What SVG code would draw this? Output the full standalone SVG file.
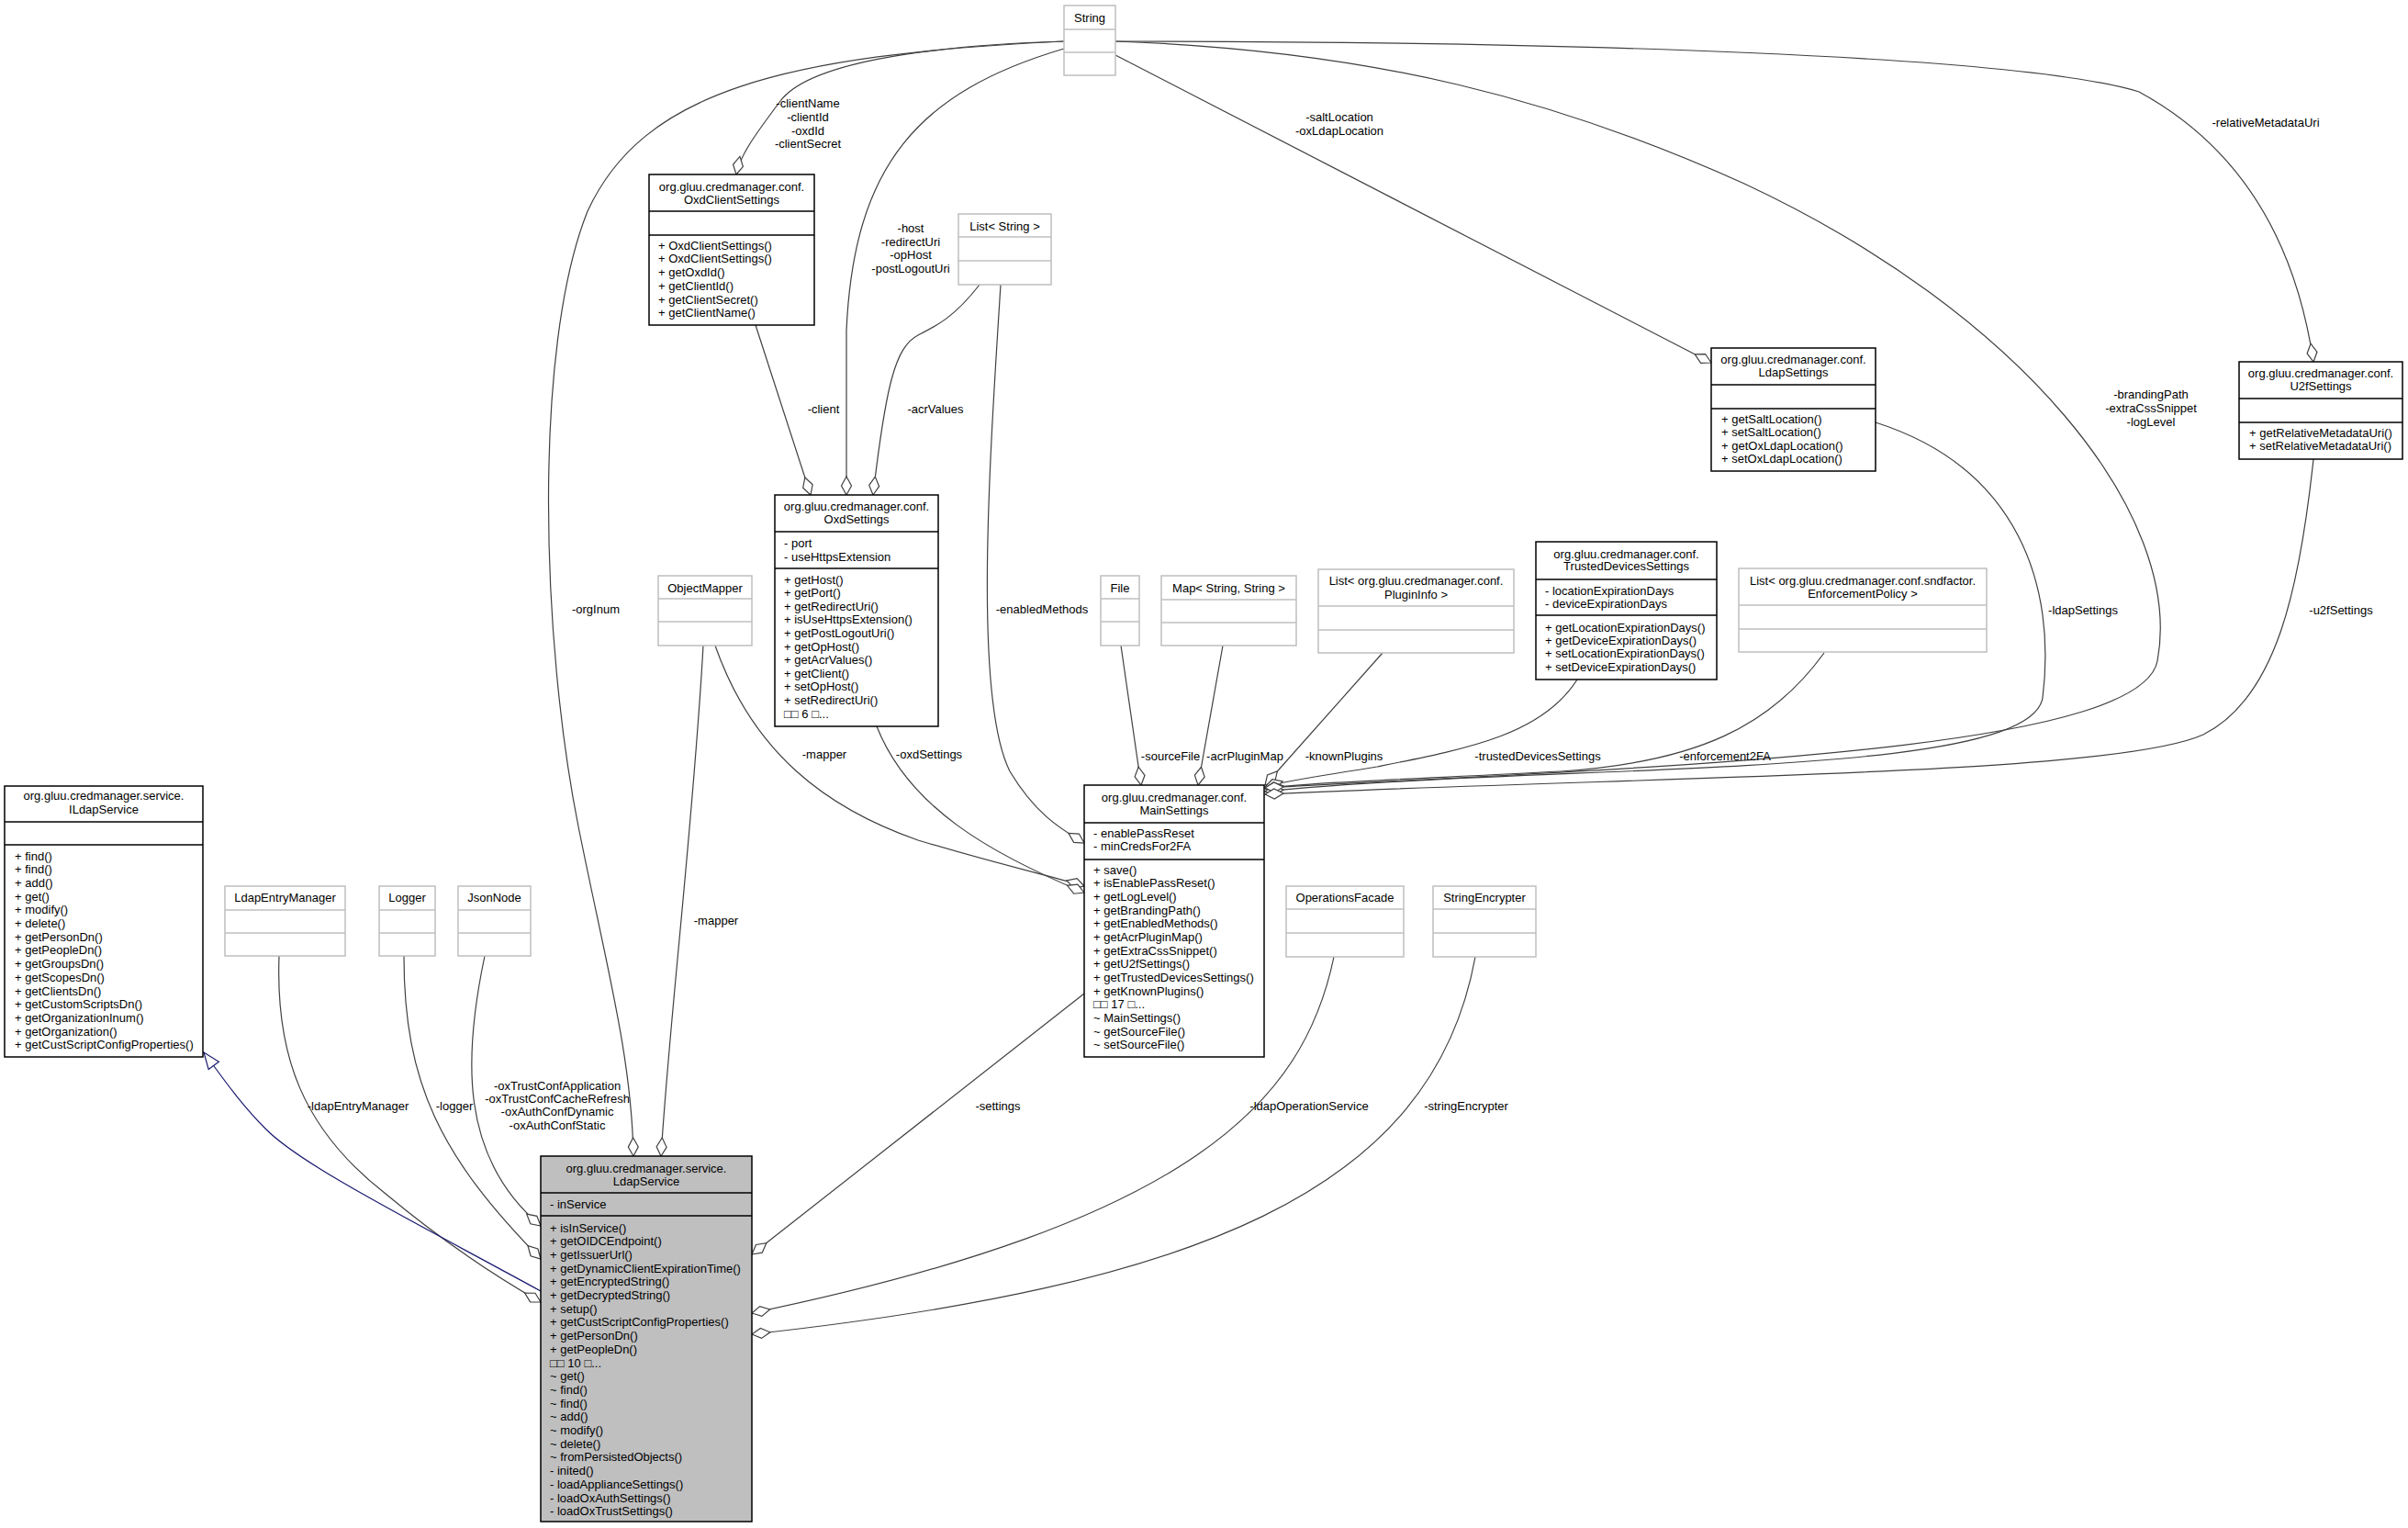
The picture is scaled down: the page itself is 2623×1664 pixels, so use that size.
<svg xmlns="http://www.w3.org/2000/svg" width="2623" height="1664" viewBox="0 0 2623 1664">
<style>
text{font-family:"Liberation Sans",Arial,sans-serif;font-size:13px;fill:#000}
.c{text-anchor:middle}
.ext{fill:#fff;stroke:#bfbfbf;stroke-width:1.5}
.cls{fill:#fff;stroke:#000;stroke-width:1.5}
.cur{fill:#bfbfbf;stroke:#000;stroke-width:1.5}
.sg{stroke:#bfbfbf;stroke-width:1.5}
.sb{stroke:#000;stroke-width:1.5}
.e{fill:none;stroke:#404040;stroke-width:1.2;marker-end:url(#dia)}
.inh{fill:none;stroke:#191970;stroke-width:1.2;marker-end:url(#tri)}
</style>
<defs>
<marker id="dia" markerUnits="userSpaceOnUse" markerWidth="24" markerHeight="14" viewBox="-22 -7 24 14" refX="0" refY="0" orient="auto"><path d="M0,0 L-10,-5.5 L-20,0 L-10,5.5 Z" fill="#fff" stroke="#404040" stroke-width="1.2"/></marker>
<marker id="tri" markerUnits="userSpaceOnUse" markerWidth="22" markerHeight="18" viewBox="-20 -9 22 18" refX="0" refY="0" orient="auto"><path d="M0,0 L-18,-7 L-18,7 Z" fill="#fff" stroke="#191970" stroke-width="1.2"/></marker>
</defs>
<rect width="2623" height="1664" fill="#fff"/>
<g id="connectors">
<path class="e" d="M1159,45 C850,60 700,100 640,230 C580,380 590,700 630,900 C660,1050 688,1150 690,1259"/>
<path class="e" d="M766,703 C755,900 730,1100 720,1259"/>
<path class="e" d="M304,1041 C300,1150 330,1230 420,1300 C480,1350 540,1390 589,1418"/>
<path class="e" d="M440,1041 C440,1180 480,1260 589,1371"/>
<path class="e" d="M528,1041 C505,1150 500,1260 589,1335"/>
<path class="inh" d="M589,1406 C450,1330 330,1270 290,1230 C260,1200 240,1170 222,1146"/>
<path class="e" d="M1181,1082 L819,1366"/>
<path class="e" d="M1453,1042 C1420,1200 1300,1330 819,1430"/>
<path class="e" d="M1607,1042 C1560,1300 1300,1400 819,1453"/>
<path class="e" d="M779,703 C820,820 900,880 1000,915 C1100,945 1150,955 1181,965"/>
<path class="e" d="M955,791 C990,880 1080,930 1181,972"/>
<path class="e" d="M1090,310 C1078,500 1060,760 1100,840 C1130,890 1160,905 1181,918"/>
<path class="e" d="M1221,703 L1243,855"/>
<path class="e" d="M1332,703 L1305,855"/>
<path class="e" d="M1506,711 L1378,855"/>
<path class="e" d="M1718,740 C1680,800 1600,815 1500,835 C1440,845 1400,850 1378,857"/>
<path class="e" d="M1987,711 C1930,790 1850,830 1700,840 C1550,848 1420,852 1378,859"/>
<path class="e" d="M2043,460 C2200,510 2240,640 2225,760 C2210,850 1700,830 1378,862"/>
<path class="e" d="M1215,45 C1500,55 1700,110 1900,200 C2200,340 2380,560 2350,720 C2330,820 1800,835 1378,858"/>
<path class="e" d="M2520,500 C2505,640 2480,760 2400,800 C2300,845 1800,845 1378,865"/>
<path class="e" d="M1215,45 C1700,45 2200,60 2330,100 C2440,160 2500,260 2520,394"/>
<path class="e" d="M1215,60 L1864,395"/>
<path class="e" d="M1159,45 C1000,50 880,70 850,110 C820,150 806,170 802,190"/>
<path class="e" d="M1159,53 C1000,100 930,180 922,360 L922,539"/>
<path class="e" d="M823,354 L883,539"/>
<path class="e" d="M1067,310 C1040,345 1020,355 1000,365 C975,378 965,420 951,539"/>
<text class="c" x="649" y="668">-orgInum</text>
<text class="c" x="780" y="1007">-mapper</text>
<text class="c" x="390" y="1209">-ldapEntryManager</text>
<text class="c" x="495" y="1209">-logger</text>
<text class="c" x="607" y="1187">-oxTrustConfApplication</text>
<text class="c" x="607" y="1201">-oxTrustConfCacheRefresh</text>
<text class="c" x="607" y="1215">-oxAuthConfDynamic</text>
<text class="c" x="607" y="1230">-oxAuthConfStatic</text>
<text class="c" x="1087" y="1209">-settings</text>
<text class="c" x="1426" y="1209">-ldapOperationService</text>
<text class="c" x="1597" y="1209">-stringEncrypter</text>
<text class="c" x="898" y="826">-mapper</text>
<text class="c" x="1012" y="826">-oxdSettings</text>
<text class="c" x="1135" y="668">-enabledMethods</text>
<text class="c" x="1275" y="828">-sourceFile</text>
<text class="c" x="1356" y="828">-acrPluginMap</text>
<text class="c" x="1464" y="828">-knownPlugins</text>
<text class="c" x="1675" y="828">-trustedDevicesSettings</text>
<text class="c" x="1879" y="828">-enforcement2FA</text>
<text class="c" x="2269" y="669">-ldapSettings</text>
<text class="c" x="2343" y="434">-brandingPath</text>
<text class="c" x="2343" y="449">-extraCssSnippet</text>
<text class="c" x="2343" y="464">-logLevel</text>
<text class="c" x="2550" y="669">-u2fSettings</text>
<text class="c" x="2468" y="138">-relativeMetadataUri</text>
<text class="c" x="1459" y="132">-saltLocation</text>
<text class="c" x="1459" y="147">-oxLdapLocation</text>
<text class="c" x="880" y="117">-clientName</text>
<text class="c" x="880" y="132">-clientId</text>
<text class="c" x="880" y="147">-oxdId</text>
<text class="c" x="880" y="161">-clientSecret</text>
<text class="c" x="992" y="253">-host</text>
<text class="c" x="992" y="268">-redirectUri</text>
<text class="c" x="992" y="282">-opHost</text>
<text class="c" x="992" y="297">-postLogoutUri</text>
<text class="c" x="897" y="450">-client</text>
<text class="c" x="1019" y="450">-acrValues</text>
</g>
<g id="String"><rect class="ext" x="1159" y="6" width="56" height="76"/><line class="sg" x1="1159" y1="32" x2="1215" y2="32"/><line class="sg" x1="1159" y1="57" x2="1215" y2="57"/><text class="c" x="1187" y="23.5">String</text></g>
<g id="ListString"><rect class="ext" x="1044" y="233" width="101" height="77"/><line class="sg" x1="1044" y1="258" x2="1145" y2="258"/><line class="sg" x1="1044" y1="284" x2="1145" y2="284"/><text class="c" x="1094.5" y="250.5">List&lt; String &gt;</text></g>
<g id="ObjectMapper"><rect class="ext" x="717" y="627" width="102" height="76"/><line class="sg" x1="717" y1="652" x2="819" y2="652"/><line class="sg" x1="717" y1="677" x2="819" y2="677"/><text class="c" x="768" y="644.5">ObjectMapper</text></g>
<g id="File"><rect class="ext" x="1199" y="627" width="42" height="76"/><line class="sg" x1="1199" y1="652" x2="1241" y2="652"/><line class="sg" x1="1199" y1="677" x2="1241" y2="677"/><text class="c" x="1220" y="644.5">File</text></g>
<g id="MapStringString"><rect class="ext" x="1265" y="627" width="147" height="76"/><line class="sg" x1="1265" y1="653" x2="1412" y2="653"/><line class="sg" x1="1265" y1="678" x2="1412" y2="678"/><text class="c" x="1338.5" y="644.5">Map&lt; String, String &gt;</text></g>
<g id="ListPluginInfo"><rect class="ext" x="1436" y="620" width="213" height="91"/><line class="sg" x1="1436" y1="660" x2="1649" y2="660"/><line class="sg" x1="1436" y1="686" x2="1649" y2="686"/><text class="c" x="1542.5" y="636.5">List&lt; org.gluu.credmanager.conf.</text><text class="c" x="1542.5" y="651.5">PluginInfo &gt;</text></g>
<g id="ListEnforcementPolicy"><rect class="ext" x="1894" y="619" width="270" height="91"/><line class="sg" x1="1894" y1="659" x2="2164" y2="659"/><line class="sg" x1="1894" y1="685" x2="2164" y2="685"/><text class="c" x="2029" y="636.5">List&lt; org.gluu.credmanager.conf.sndfactor.</text><text class="c" x="2029" y="650.5">EnforcementPolicy &gt;</text></g>
<g id="OperationsFacade"><rect class="ext" x="1401" y="965" width="128" height="77"/><line class="sg" x1="1401" y1="990" x2="1529" y2="990"/><line class="sg" x1="1401" y1="1016" x2="1529" y2="1016"/><text class="c" x="1465" y="981.5">OperationsFacade</text></g>
<g id="StringEncrypter"><rect class="ext" x="1561" y="965" width="112" height="77"/><line class="sg" x1="1561" y1="990" x2="1673" y2="990"/><line class="sg" x1="1561" y1="1016" x2="1673" y2="1016"/><text class="c" x="1617" y="981.5">StringEncrypter</text></g>
<g id="LdapEntryManager"><rect class="ext" x="245" y="965" width="131" height="76"/><line class="sg" x1="245" y1="991" x2="376" y2="991"/><line class="sg" x1="245" y1="1016" x2="376" y2="1016"/><text class="c" x="310.5" y="982">LdapEntryManager</text></g>
<g id="Logger"><rect class="ext" x="413" y="965" width="61" height="76"/><line class="sg" x1="413" y1="991" x2="474" y2="991"/><line class="sg" x1="413" y1="1016" x2="474" y2="1016"/><text class="c" x="443.5" y="982">Logger</text></g>
<g id="JsonNode"><rect class="ext" x="499" y="965" width="79" height="76"/><line class="sg" x1="499" y1="991" x2="578" y2="991"/><line class="sg" x1="499" y1="1016" x2="578" y2="1016"/><text class="c" x="538.5" y="982">JsonNode</text></g>
<g id="OxdClientSettings"><rect class="cls" x="707" y="190" width="180" height="164"/><line class="sb" x1="707" y1="230" x2="887" y2="230"/><line class="sb" x1="707" y1="256" x2="887" y2="256"/><text class="c" x="797" y="207.5">org.gluu.credmanager.conf.</text><text class="c" x="797" y="221.5">OxdClientSettings</text>
<text x="717" y="271.5">+ OxdClientSettings()</text><text x="717" y="286.3">+ OxdClientSettings()</text><text x="717" y="301">+ getOxdId()</text><text x="717" y="315.8">+ getClientId()</text><text x="717" y="330.6">+ getClientSecret()</text><text x="717" y="345.4">+ getClientName()</text></g>
<g id="OxdSettings"><rect class="cls" x="844" y="539" width="178" height="252"/><line class="sb" x1="844" y1="579" x2="1022" y2="579"/><line class="sb" x1="844" y1="619" x2="1022" y2="619"/><text class="c" x="933" y="555.5">org.gluu.credmanager.conf.</text><text class="c" x="933" y="569.5">OxdSettings</text>
<text x="854" y="595.5">- port</text><text x="854" y="610.5">- useHttpsExtension</text>
<text x="854" y="635.5">+ getHost()</text><text x="854" y="650.1">+ getPort()</text><text x="854" y="664.7">+ getRedirectUri()</text><text x="854" y="679.3">+ isUseHttpsExtension()</text><text x="854" y="693.9">+ getPostLogoutUri()</text><text x="854" y="708.5">+ getOpHost()</text><text x="854" y="723.1">+ getAcrValues()</text><text x="854" y="737.7">+ getClient()</text><text x="854" y="752.3">+ setOpHost()</text><text x="854" y="766.9">+ setRedirectUri()</text><text x="854" y="781.5">□□ 6 □...</text></g>
<g id="TrustedDevicesSettings"><rect class="cls" x="1673" y="590" width="197" height="150"/><line class="sb" x1="1673" y1="631" x2="1870" y2="631"/><line class="sb" x1="1673" y1="670" x2="1870" y2="670"/><text class="c" x="1771.5" y="607.5">org.gluu.credmanager.conf.</text><text class="c" x="1771.5" y="620.5">TrustedDevicesSettings</text>
<text x="1683" y="647.5">- locationExpirationDays</text><text x="1683" y="661.5">- deviceExpirationDays</text>
<text x="1683" y="687.5">+ getLocationExpirationDays()</text><text x="1683" y="701.5">+ getDeviceExpirationDays()</text><text x="1683" y="716">+ setLocationExpirationDays()</text><text x="1683" y="731">+ setDeviceExpirationDays()</text></g>
<g id="LdapSettings"><rect class="cls" x="1864" y="379" width="179" height="134"/><line class="sb" x1="1864" y1="419" x2="2043" y2="419"/><line class="sb" x1="1864" y1="445" x2="2043" y2="445"/><text class="c" x="1953.5" y="395.5">org.gluu.credmanager.conf.</text><text class="c" x="1953.5" y="409.5">LdapSettings</text>
<text x="1875" y="460.5">+ getSaltLocation()</text><text x="1875" y="475">+ setSaltLocation()</text><text x="1875" y="489.5">+ getOxLdapLocation()</text><text x="1875" y="504">+ setOxLdapLocation()</text></g>
<g id="U2fSettings"><rect class="cls" x="2439" y="394" width="178" height="106"/><line class="sb" x1="2439" y1="434" x2="2617" y2="434"/><line class="sb" x1="2439" y1="460" x2="2617" y2="460"/><text class="c" x="2528" y="410.5">org.gluu.credmanager.conf.</text><text class="c" x="2528" y="424.5">U2fSettings</text>
<text x="2450" y="475.5">+ getRelativeMetadataUri()</text><text x="2450" y="489.5">+ setRelativeMetadataUri()</text></g>
<g id="MainSettings"><rect class="cls" x="1181" y="855" width="196" height="296"/><line class="sb" x1="1181" y1="896" x2="1377" y2="896"/><line class="sb" x1="1181" y1="936" x2="1377" y2="936"/><text class="c" x="1279" y="872.5">org.gluu.credmanager.conf.</text><text class="c" x="1279" y="886.5">MainSettings</text>
<text x="1191" y="911.5">- enablePassReset</text><text x="1191" y="926">- minCredsFor2FA</text>
<text x="1191" y="951.5">+ save()</text><text x="1191" y="966.2">+ isEnablePassReset()</text><text x="1191" y="980.8">+ getLogLevel()</text><text x="1191" y="995.5">+ getBrandingPath()</text><text x="1191" y="1010.2">+ getEnabledMethods()</text><text x="1191" y="1024.8">+ getAcrPluginMap()</text><text x="1191" y="1039.5">+ getExtraCssSnippet()</text><text x="1191" y="1054.2">+ getU2fSettings()</text><text x="1191" y="1068.9">+ getTrustedDevicesSettings()</text><text x="1191" y="1083.5">+ getKnownPlugins()</text><text x="1191" y="1098.2">□□ 17 □...</text><text x="1191" y="1112.9">~ MainSettings()</text><text x="1191" y="1127.5">~ getSourceFile()</text><text x="1191" y="1142.2">~ setSourceFile()</text></g>
<g id="ILdapService"><rect class="cls" x="5" y="856" width="216" height="295"/><line class="sb" x1="5" y1="895" x2="221" y2="895"/><line class="sb" x1="5" y1="920" x2="221" y2="920"/><text class="c" x="113" y="870.5">org.gluu.credmanager.service.</text><text class="c" x="113" y="885.5">ILdapService</text>
<text x="16" y="936.5">+ find()</text><text x="16" y="951.2">+ find()</text><text x="16" y="965.9">+ add()</text><text x="16" y="980.6">+ get()</text><text x="16" y="995.3">+ modify()</text><text x="16" y="1010">+ delete()</text><text x="16" y="1024.7">+ getPersonDn()</text><text x="16" y="1039.4">+ getPeopleDn()</text><text x="16" y="1054.1">+ getGroupsDn()</text><text x="16" y="1068.8">+ getScopesDn()</text><text x="16" y="1083.5">+ getClientsDn()</text><text x="16" y="1098.2">+ getCustomScriptsDn()</text><text x="16" y="1112.9">+ getOrganizationInum()</text><text x="16" y="1127.6">+ getOrganization()</text><text x="16" y="1142.3">+ getCustScriptConfigProperties()</text></g>
<g id="LdapService"><rect class="cur" x="589" y="1259" width="230" height="398"/><line class="sb" x1="589" y1="1299" x2="819" y2="1299"/><line class="sb" x1="589" y1="1324" x2="819" y2="1324"/><text class="c" x="704" y="1276.5">org.gluu.credmanager.service.</text><text class="c" x="704" y="1290.5">LdapService</text>
<text x="599" y="1315.5">- inService</text>
<text x="599" y="1341.5">+ isInService()</text><text x="599" y="1356.2">+ getOIDCEndpoint()</text><text x="599" y="1370.9">+ getIssuerUrl()</text><text x="599" y="1385.6">+ getDynamicClientExpirationTime()</text><text x="599" y="1400.3">+ getEncryptedString()</text><text x="599" y="1415">+ getDecryptedString()</text><text x="599" y="1429.7">+ setup()</text><text x="599" y="1444.4">+ getCustScriptConfigProperties()</text><text x="599" y="1459.1">+ getPersonDn()</text><text x="599" y="1473.8">+ getPeopleDn()</text><text x="599" y="1488.5">□□ 10 □...</text><text x="599" y="1503.2">~ get()</text><text x="599" y="1517.9">~ find()</text><text x="599" y="1532.6">~ find()</text><text x="599" y="1547.3">~ add()</text><text x="599" y="1562">~ modify()</text><text x="599" y="1576.7">~ delete()</text><text x="599" y="1591.4">~ fromPersistedObjects()</text><text x="599" y="1606.1">- inited()</text><text x="599" y="1620.8">- loadApplianceSettings()</text><text x="599" y="1635.5">- loadOxAuthSettings()</text><text x="599" y="1650.2">- loadOxTrustSettings()</text></g>
</svg>
